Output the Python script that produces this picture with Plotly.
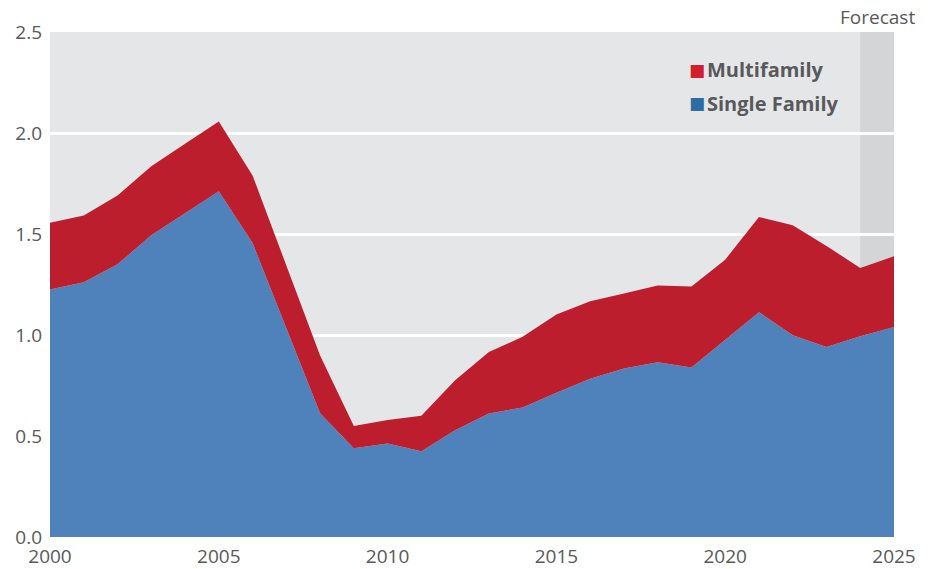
import plotly.graph_objects as go

years = list(range(2000, 2026))
single_family = [1.225, 1.261, 1.350, 1.494, 1.603, 1.712, 1.455, 1.034, 0.613, 0.439,
                 0.463, 0.425, 0.529, 0.612, 0.641, 0.714, 0.784, 0.834, 0.865, 0.839,
                 0.978, 1.113, 0.999, 0.941, 0.994, 1.040]
multifamily = [0.331, 0.330, 0.341, 0.342, 0.344, 0.345, 0.335, 0.311, 0.285, 0.110,
               0.116, 0.175, 0.247, 0.304, 0.350, 0.387, 0.383, 0.371, 0.380, 0.401,
               0.395, 0.471, 0.544, 0.500, 0.338, 0.350]
x_ticks = [2000, 2005, 2010, 2015, 2020, 2025]
y_ticks = [0.0, 0.5, 1.0, 1.5, 2.0, 2.5]
forecast_start, forecast_end = 2024, 2025

BLUE = "#4F81BB"
RED = "#BC1E2D"
LEG_RED = "#D0202E"
LEG_BLUE = "#2E6DA4"
GREY_TXT = "#58595B"
FONT = "Open Sans"

fig = go.Figure()
fig.add_trace(go.Scatter(x=years, y=single_family, name="Single Family", stackgroup="one",
                         mode="lines", line=dict(width=0, color=BLUE), fillcolor=BLUE,
                         hoverinfo="x+y"))
fig.add_trace(go.Scatter(x=years, y=multifamily, name="Multifamily", stackgroup="one",
                         mode="lines", line=dict(width=0, color=RED), fillcolor=RED,
                         hoverinfo="x+y"))

fig.add_shape(type="rect", xref="x", yref="paper", x0=forecast_start, x1=forecast_end,
              y0=0, y1=1, fillcolor="#D2D3D5", line=dict(width=0), layer="between", opacity=0.9)

fig.add_annotation(xref="x", yref="paper", x=(forecast_start + forecast_end) / 2, y=1.0,
                   yanchor="bottom", xanchor="center", yshift=0, showarrow=False,
                   text="Forecast", font=dict(family=FONT, size=19, color=GREY_TXT))

legend_items = [("Multifamily", LEG_RED, 0.925), ("Single Family", LEG_BLUE, 0.859)]
for label, col, yy in legend_items:
    fig.add_annotation(xref="paper", yref="paper", x=0.755, y=yy, xanchor="left", yanchor="middle",
                       showarrow=False, text="■", font=dict(family="DejaVu Sans", size=17, color=col))
    fig.add_annotation(xref="paper", yref="paper", x=0.776, y=yy, xanchor="left", yanchor="middle",
                       showarrow=False, text=f"<b>{label}</b>",
                       font=dict(family=FONT, size=20, color=GREY_TXT))

fig.update_layout(
    width=931, height=569,
    margin=dict(l=50, r=37, t=32, b=32),
    paper_bgcolor="white", plot_bgcolor="#E5E6E8",
    showlegend=False,
    font=dict(family=FONT, color=GREY_TXT, size=20),
)
fig.update_xaxes(range=[2000, 2025], tickvals=x_ticks, ticktext=[str(v) for v in x_ticks],
                 showgrid=False, zeroline=False, ticks="", showline=False, automargin=False,
                 tickfont=dict(size=19, color=GREY_TXT), ticklabelstandoff=6)
fig.update_yaxes(range=[0, 2.5], tickvals=y_ticks, ticktext=[f"{v:.1f}" for v in y_ticks],
                 showgrid=True, gridcolor="white", gridwidth=3, zeroline=False, ticks="",
                 showline=False, automargin=False, tickfont=dict(size=19, color=GREY_TXT),
                 ticklabelstandoff=7)

fig.write_html("out.html", config={"displayModeBar": False},
               post_script="document.body.style.margin='0';")
